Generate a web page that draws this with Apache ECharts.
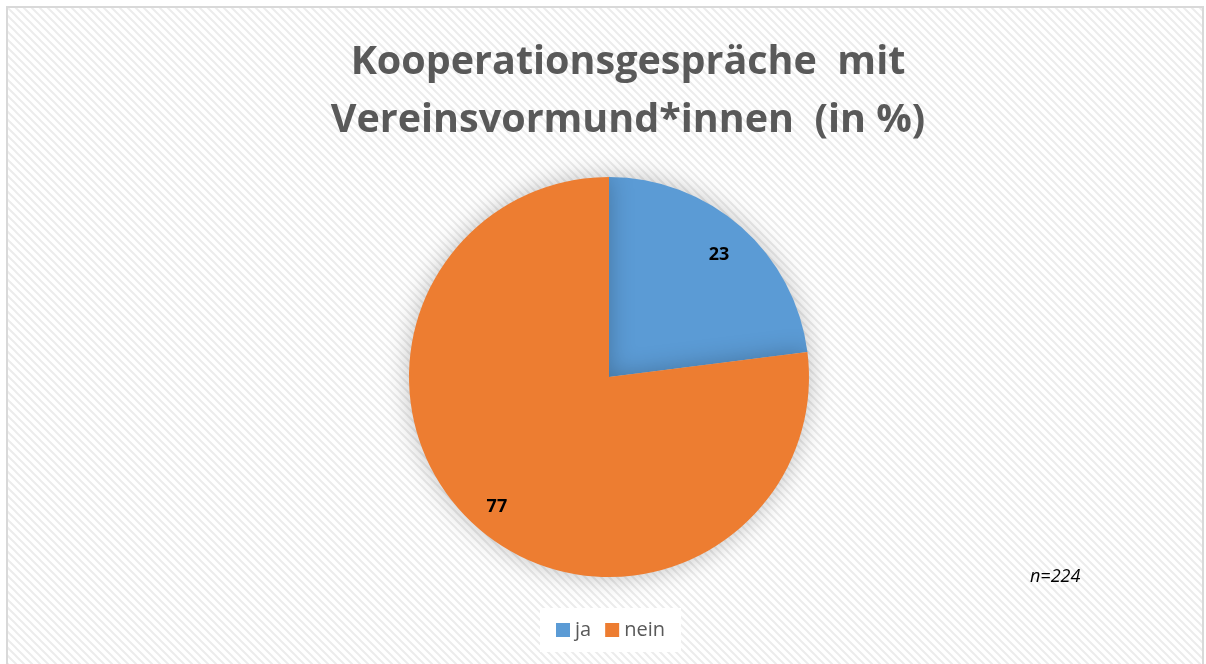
<!DOCTYPE html>
<html>
<head>
<meta charset="utf-8">
<script src="https://cdn.jsdelivr.net/npm/echarts@6/dist/echarts.min.js"></script>
<style>
  html, body { margin: 0; padding: 0; background: #fff; }
  #chart { width: 1206px; height: 664px; }
</style>
</head>
<body>
<div id="chart"></div>
<script>
var categories = ['ja', 'nein']
var values = [23, 77]
var colors = ['#5b9bd5', '#ed7d31']

// diagonal hatch for the chart area
var tile = document.createElement('canvas')
tile.width = 8
tile.height = 8
var ctx = tile.getContext('2d')
ctx.fillStyle = '#ffffff'
ctx.fillRect(0, 0, 8, 8)
ctx.strokeStyle = '#ececec'
ctx.lineWidth = 2
ctx.beginPath()
ctx.moveTo(-2, -2); ctx.lineTo(10, 10)
ctx.moveTo(-10, -2); ctx.lineTo(2, 10)
ctx.moveTo(6, -2); ctx.lineTo(18, 10)
ctx.stroke()

var chart = echarts.init(document.getElementById('chart'))

var pieData = categories.map(function (c, i) {
  return { name: c, value: values[i], itemStyle: { color: colors[i] } }
})

var option = {
  backgroundColor: '#ffffff',
  graphic: [
    {
      type: 'rect',
      z: -10,
      shape: { x: 7, y: 7, width: 1196, height: 670 },
      style: { fill: { image: tile, repeat: 'repeat' }, stroke: '#d9d9d9', lineWidth: 2 }
    },
    {
      type: 'text',
      left: 1030,
      top: 568,
      style: { text: 'n=224', font: 'italic 18px "Open Sans"', fill: '#000' }
    }
  ],
  title: {
    text: 'Kooperationsgespräche  mit\nVereinsvormund*innen  (in %)',
    left: 623,
    textAlign: 'center',
    top: 29,
    textStyle: {
      fontFamily: 'Open Sans',
      fontWeight: 'bold',
      fontSize: 39.5,
      lineHeight: 58,
      color: '#595959'
    }
  },
  legend: {
    data: categories,
    bottom: 12,
    left: 540,
    itemWidth: 14,
    itemHeight: 14,
    itemGap: 14,
    icon: 'rect',
    padding: [12, 16],
    backgroundColor: '#ffffff',
    textStyle: { fontFamily: 'Open Sans', fontSize: 20, color: '#595959' }
  },
  series: [
    {
      type: 'pie',
      center: [609, 377],
      radius: [0, 200],
      startAngle: 90,
      clockwise: true,
      animation: false,
      label: { show: false },
      labelLine: { show: false },
      itemStyle: { shadowBlur: 24, shadowColor: 'rgba(0,0,0,0.25)' },
      emphasis: { disabled: true },
      data: pieData
    },
    {
      // label carrier, transparent ring
      type: 'pie',
      center: [609, 377],
      radius: [130, 200],
      startAngle: 90,
      clockwise: true,
      animation: false,
      silent: true,
      legendHoverLink: false,
      itemStyle: { color: 'transparent' },
      label: {
        show: true,
        position: 'inside',
        formatter: '{c}',
        offset: [-1, 4],
        fontFamily: 'Open Sans',
        fontWeight: 'bold',
        fontSize: 18,
        color: '#000'
      },
      labelLine: { show: false },
      emphasis: { disabled: true },
      data: categories.map(function (c, i) {
        return { name: c + ' ', value: values[i] }
      })
    }
  ]
}
chart.setOption(option)
</script>
</body>
</html>
